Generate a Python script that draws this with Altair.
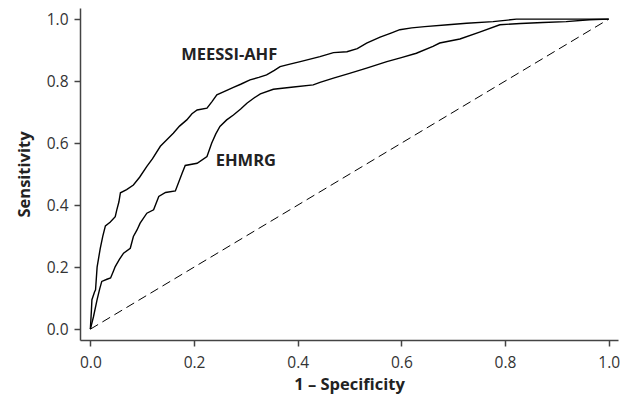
import altair as alt
import pandas as pd

# ROC curve points (false positive rate, true positive rate)
meessi_fpr = [0.0, 0.002, 0.003, 0.008, 0.010, 0.013, 0.016, 0.019, 0.024, 0.029, 0.038, 0.048,
              0.051, 0.055, 0.058, 0.070, 0.083, 0.095, 0.109, 0.120, 0.135, 0.147, 0.160, 0.172,
              0.186, 0.196, 0.206, 0.225, 0.235, 0.244, 0.260, 0.276, 0.290, 0.308, 0.325, 0.340,
              0.355, 0.366, 0.385, 0.405, 0.443, 0.469, 0.495, 0.515, 0.533, 0.559, 0.580, 0.597,
              0.620, 0.645, 0.690, 0.726, 0.777, 0.822, 1.0]
meessi_tpr = [0.0, 0.060, 0.095, 0.120, 0.127, 0.200, 0.230, 0.260, 0.300, 0.333, 0.345, 0.363,
              0.385, 0.410, 0.440, 0.450, 0.465, 0.490, 0.525, 0.550, 0.590, 0.610, 0.632, 0.655,
              0.675, 0.695, 0.707, 0.713, 0.735, 0.756, 0.768, 0.780, 0.790, 0.804, 0.812, 0.820,
              0.835, 0.847, 0.855, 0.863, 0.879, 0.892, 0.895, 0.905, 0.923, 0.942, 0.955, 0.966,
              0.972, 0.976, 0.982, 0.987, 0.992, 1.0, 1.0]

ehmrg_fpr = [0.0, 0.006, 0.013, 0.018, 0.022, 0.032, 0.039, 0.044, 0.048, 0.056, 0.064, 0.077,
             0.083, 0.090, 0.096, 0.109, 0.122, 0.132, 0.145, 0.164, 0.177, 0.183, 0.206, 0.225,
             0.234, 0.242, 0.250, 0.263, 0.276, 0.290, 0.302, 0.315, 0.328, 0.353, 0.392, 0.430,
             0.443, 0.469, 0.500, 0.533, 0.572, 0.600, 0.629, 0.661, 0.674, 0.713, 0.751, 0.790,
             0.830, 0.873, 0.918, 0.963, 1.0]
ehmrg_tpr = [0.0, 0.040, 0.095, 0.130, 0.154, 0.161, 0.165, 0.185, 0.202, 0.225, 0.245, 0.261,
             0.299, 0.320, 0.342, 0.374, 0.385, 0.428, 0.441, 0.446, 0.503, 0.528, 0.535, 0.557,
             0.600, 0.630, 0.654, 0.675, 0.691, 0.710, 0.729, 0.745, 0.759, 0.774, 0.781, 0.788,
             0.796, 0.810, 0.825, 0.842, 0.863, 0.876, 0.890, 0.912, 0.923, 0.936, 0.958, 0.982,
             0.986, 0.989, 0.992, 0.998, 1.0]

# Curve labels and where they sit
label_text = ["MEESSI-AHF", "EHMRG"]
label_x = [0.268, 0.300]
label_y = [0.883, 0.541]

ticks = [0.0, 0.2, 0.4, 0.6, 0.8, 1.0]

FONT = "Open Sans"

rows = []
for name, fx, ty in [("MEESSI-AHF", meessi_fpr, meessi_tpr), ("EHMRG", ehmrg_fpr, ehmrg_tpr)]:
    for i, (a, b) in enumerate(zip(fx, ty)):
        rows.append({"model": name, "idx": i, "fpr": a, "tpr": b})
curves = pd.DataFrame(rows)
chance = pd.DataFrame({"fpr": [0.0, 1.0], "tpr": [0.0, 1.0]})
labels = pd.DataFrame({"text": label_text, "fpr": label_x, "tpr": label_y})

x_scale = alt.Scale(domain=[-0.02, 1.018], nice=False, zero=False)
y_scale = alt.Scale(domain=[-0.035, 1.036], nice=False, zero=False)

x_axis = alt.Axis(values=ticks, format=".1f", title="1 \u2013 Specificity", grid=False,
                  tickSize=6, labelPadding=9, titlePadding=6)
y_axis = alt.Axis(values=ticks, format=".1f", title="Sensitivity", grid=False,
                  tickSize=6, labelPadding=6, titlePadding=14)

lines = alt.Chart(curves).mark_line(color="black", strokeWidth=1.4).encode(
    x=alt.X("fpr:Q", scale=x_scale, axis=x_axis),
    y=alt.Y("tpr:Q", scale=y_scale, axis=y_axis),
    detail="model:N",
    order="idx:Q",
)

diag = alt.Chart(chance).mark_line(color="black", strokeWidth=1, strokeDash=[9, 5]).encode(
    x=alt.X("fpr:Q", scale=x_scale),
    y=alt.Y("tpr:Q", scale=y_scale),
)

text = alt.Chart(labels).mark_text(font=FONT, fontSize=16.5, fontWeight="bold", color="#222").encode(
    x=alt.X("fpr:Q", scale=x_scale),
    y=alt.Y("tpr:Q", scale=y_scale),
    text="text:N",
)

chart = (
    alt.layer(diag, lines, text)
    .properties(width=538, height=332, autosize=alt.AutoSizeParams(type="none"),
                padding={"left": 80, "top": 8, "right": 13, "bottom": 56})
    .configure_view(stroke=None)
    .configure_axis(
        domainColor="#444", domainWidth=1.5, tickColor="#444", tickWidth=1.5,
        labelFont=FONT, labelFontSize=15.5, labelColor="#333",
        titleFont=FONT, titleFontSize=16.5, titleFontWeight="bold", titleColor="#222",
    )
)

chart.save("out.html", embed_options={"renderer": "svg", "actions": False})
